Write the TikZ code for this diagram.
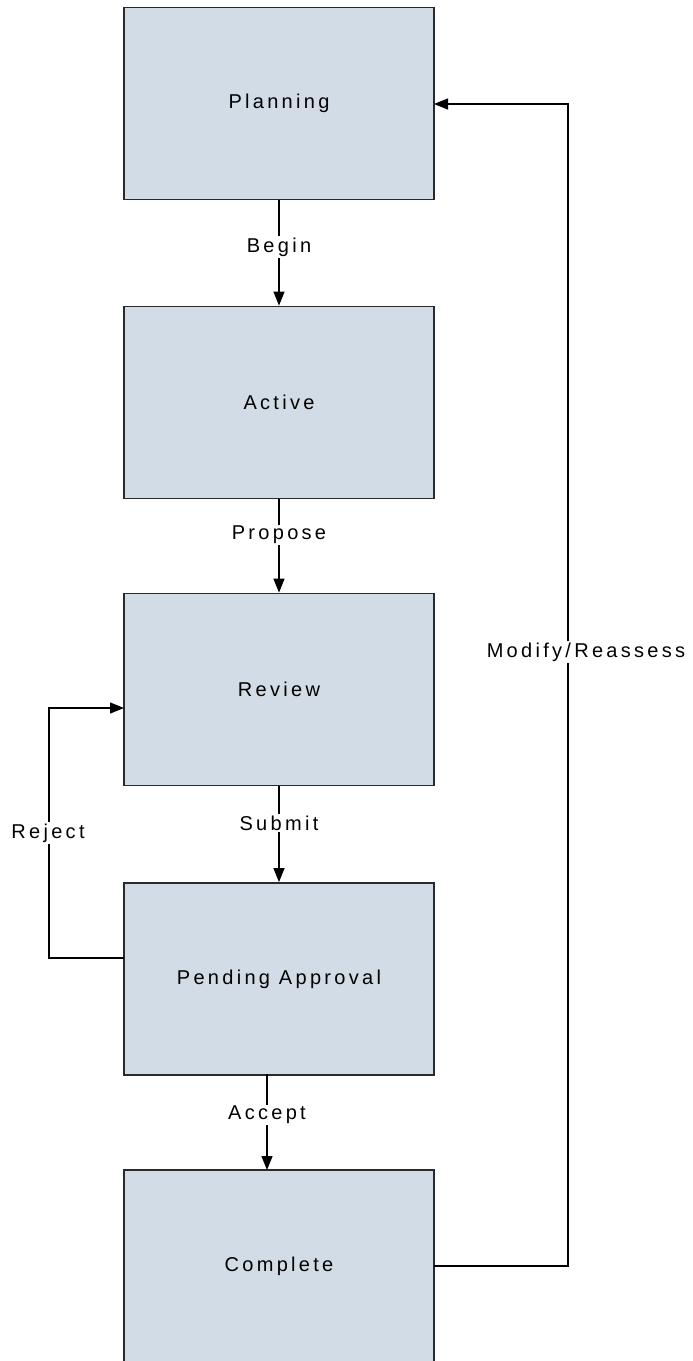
\documentclass[tikz,border=0pt]{standalone}
\usepackage{fontspec}
\setmainfont{Liberation Sans}[LetterSpace=16.5]
\usetikzlibrary{arrows.meta}
\definecolor{boxfill}{HTML}{D2DCE6}
\definecolor{boxline}{HTML}{2A2A2A}
\tikzset{
  state/.style={draw=boxline, line width=1.8pt, fill=boxfill, minimum width=310pt, minimum height=192pt, inner sep=0pt, font=\fontsize{20}{24}\selectfont},
  conn/.style={draw=black, line width=1.2pt, -{Triangle[length=14pt,width=11pt]}},
  lbl/.style={fill=white, inner sep=1.5pt, font=\fontsize{20}{24}\selectfont}
}
\begin{document}
\begin{tikzpicture}[x=1pt,y=-1pt]
\useasboundingbox (0,0) rectangle (693,1361);
\clip (0,0) rectangle (693,1361);
\node[state] (plan) at (279,103.5) {Planning};
\node[state] (act) at (279,402.5) {Active};
\node[state] (rev) at (279,689.5) {Review};
\node[state] (pend) at (279,979) {Pending Approval};
\node[state] (comp) at (279,1266) {Complete};
\draw[conn] (plan.south) -- (act.north);
\node[lbl] (lbegin) at (279,247) {Begin};
\draw[conn] (act.south) -- (rev.north);
\node[lbl] (lprop) at (279,535) {Propose};
\draw[conn] (rev.south) -- (pend.north);
\node[lbl] (lsub) at (279,823) {Submit};
\coordinate (ps) at (267,1074);
\coordinate (cn) at (267,1170);
\draw[conn] (ps) -- (cn);
\node[lbl] (lacc) at (267,1115) {Accept};
\coordinate (ce) at (434,1266);
\coordinate (mr1) at (568,1266);
\coordinate (mr2) at (568,104);
\coordinate (pe) at (434,104);
\draw[conn] (ce) -- (mr1) -- (mr2) -- (pe);
\node[lbl] (lmod) at (586,652) {Modify/Reassess};
\coordinate (pw) at (124,958);
\coordinate (rj1) at (49,958);
\coordinate (rj2) at (49,708);
\coordinate (rw) at (124,708);
\draw[conn] (pw) -- (rj1) -- (rj2) -- (rw);
\node[lbl] (lrej) at (48,833) {Reject};
\end{tikzpicture}
\end{document}
